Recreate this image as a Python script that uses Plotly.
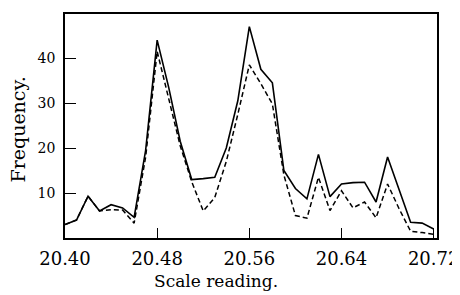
import plotly.graph_objects as go

readings = [20.40, 20.41, 20.42, 20.43, 20.44, 20.45, 20.46, 20.47, 20.48, 20.49,
            20.50, 20.51, 20.52, 20.53, 20.54, 20.55, 20.56, 20.57, 20.58, 20.59,
            20.60, 20.61, 20.62, 20.63, 20.64, 20.65, 20.66, 20.67, 20.68, 20.69,
            20.70, 20.71, 20.72]
freq_solid = [3, 4, 9.3, 6, 7.4, 6.7, 4.6, 19.5, 44, 33.5,
              21.5, 13, 13.2, 13.5, 20, 30.5, 47, 37.5, 34.5, 15,
              11, 8.7, 18.6, 9.2, 12, 12.3, 12.4, 8, 18, 10.7,
              3.5, 3.3, 2]
freq_dashed = [3, 4, 9.3, 6, 6.3, 6.2, 3.3, 18, 41.5, 31,
               20.5, 12.5, 6, 9, 17, 27.5, 38.5, 34.3, 29.8, 14,
               5, 4.4, 13.5, 6.1, 10.5, 6.7, 8, 4.5, 12, 6.5,
               1.5, 1.2, 0.8]
x_ticks = [20.40, 20.48, 20.56, 20.64, 20.72]
x_tick_text = ["20.40", "20.48", "20.56", "20.64", "20.72"]
y_ticks = [10, 20, 30, 40]

fig = go.Figure()
fig.add_trace(go.Scatter(x=readings, y=freq_dashed, mode="lines",
                         line=dict(color="black", width=1.5, dash="5px,3px"),
                         showlegend=False))
fig.add_trace(go.Scatter(x=readings, y=freq_solid, mode="lines",
                         line=dict(color="black", width=1.6),
                         showlegend=False))

serif = "DejaVu Serif"
fig.update_layout(
    template="none",
    width=452, height=287,
    margin=dict(l=57, r=23, t=6, b=57),
    paper_bgcolor="white", plot_bgcolor="white",
    font=dict(family=serif, color="black"),
    xaxis=dict(range=[20.40, 20.7229], tickvals=x_ticks, ticktext=x_tick_text,
               ticks="inside", ticklen=10, tickwidth=1.2, tickcolor="black",
               showline=True, linecolor="black", linewidth=1.5, mirror=True,
               showgrid=False, zeroline=False, ticklabelstandoff=4, automargin=False,
               tickfont=dict(family=serif, size=18, color="black")),
    yaxis=dict(range=[0, 49.8], tickvals=y_ticks,
               ticks="inside", ticklen=11, tickwidth=1.2, tickcolor="black",
               showline=True, linecolor="black", linewidth=1.5, mirror=True,
               showgrid=False, zeroline=False, ticklabelstandoff=5, automargin=False,
               tickfont=dict(family=serif, size=14, color="black")),
    annotations=[
        dict(text="Scale reading.", xref="paper", yref="paper", x=0.407, y=-0.137,
             xanchor="center", yanchor="top", showarrow=False,
             font=dict(family=serif, size=17, color="black")),
        dict(text="Frequency.", xref="paper", yref="paper", x=-0.125, y=0.482,
             xanchor="center", yanchor="middle", textangle=-90, showarrow=False,
             font=dict(family=serif, size=19, color="black")),
    ],
)
fig.write_html("out.html")
